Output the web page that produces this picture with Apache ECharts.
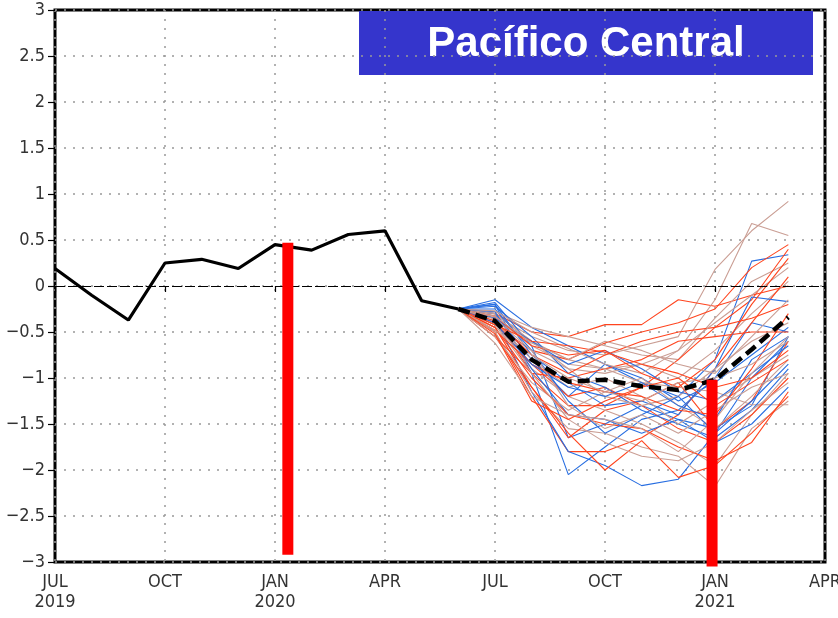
<!DOCTYPE html>
<html>
<head>
<meta charset="utf-8">
<script src="https://cdn.jsdelivr.net/npm/echarts@6/dist/echarts.min.js"></script>
<style>
  html, body { margin: 0; padding: 0; background: #fff; overflow: hidden; }
  #chart { width: 838px; height: 618px; }
</style>
</head>
<body>
<div id="chart"></div>
<script>
// Month index: 0 = JUL 2019 ... 21 = APR 2021
const tickLabels = ['JUL\n2019', 'OCT', 'JAN\n2020', 'APR', 'JUL', 'OCT', 'JAN\n2021', 'APR'];

// Observed monthly index, JUL 2019 .. JUN 2020
const obsMonths = [0, 1, 2, 3, 4, 5, 6, 7, 8, 9, 10, 11];
const obsValues = [0.19, -0.10, -0.37, 0.25, 0.29, 0.19, 0.45, 0.39, 0.56, 0.60, -0.16, -0.25];

// Forecast months, JUN 2020 .. MAR 2021
const fcstMonths = [11, 12, 13, 14, 15, 16, 17, 18, 19, 20];

// Ensemble mean forecast
const meanValues = [-0.25, -0.38, -0.80, -1.04, -1.02, -1.09, -1.13, -1.02, -0.69, -0.34];

// Ensemble members (red group)
const redMembers = [
  [-0.25, -0.30, -0.50, -0.55, -0.42, -0.42, -0.15, -0.22, -0.10, 0.00],
  [-0.25, -0.42, -0.70, -0.80, -0.62, -0.50, -0.40, -0.25, 0.20, 0.45],
  [-0.25, -0.35, -0.95, -1.30, -1.30, -1.10, -0.80, -0.45, -0.15, 0.40],
  [-0.25, -0.50, -1.20, -1.80, -1.80, -1.65, -1.40, -0.90, -0.40, 0.10],
  [-0.25, -0.45, -1.10, -1.65, -1.35, -1.25, -1.05, -1.55, -1.25, -0.60],
  [-0.25, -0.55, -0.95, -1.00, -0.90, -0.80, -0.60, -0.55, -0.50, -0.50],
  [-0.25, -0.40, -0.85, -1.20, -1.10, -1.30, -1.55, -1.70, -1.40, -1.00],
  [-0.25, -0.55, -1.10, -1.60, -2.00, -1.68, -2.08, -1.95, -1.60, -1.20],
  [-0.25, -0.45, -1.00, -1.40, -1.50, -1.55, -1.75, -1.90, -1.70, -1.15],
  [-0.25, -0.38, -0.75, -0.95, -0.75, -0.60, -0.50, -0.45, -0.35, -0.20],
  [-0.25, -0.48, -0.85, -1.05, -1.15, -1.20, -1.35, -1.40, -0.90, -0.30],
  [-0.25, -0.33, -0.65, -0.75, -0.70, -0.95, -1.10, -0.80, -0.20, 0.30],
  [-0.25, -0.52, -1.25, -1.45, -1.25, -1.10, -1.00, -1.30, -1.05, -0.80],
  [-0.25, -0.42, -0.60, -0.65, -0.72, -0.85, -0.95, -1.10, -1.00, -0.70]
];

// Ensemble members (blue group)
const blueMembers = [
  [-0.25, -0.15, -0.45, -0.65, -0.85, -1.05, -1.20, -0.80, 0.27, 0.34],
  [-0.25, -0.20, -0.95, -2.05, -1.75, -1.45, -1.35, -1.00, -0.40, -0.50],
  [-0.25, -0.18, -0.65, -1.65, -1.50, -1.30, -1.45, -1.55, -1.30, -0.55],
  [-0.25, -0.35, -1.15, -1.80, -1.95, -2.17, -2.10, -1.60, -1.00, -0.60],
  [-0.25, -0.30, -0.80, -1.20, -0.85, -1.00, -1.25, -1.05, -0.75, -0.45],
  [-0.25, -0.20, -0.75, -1.05, -1.30, -1.25, -1.40, -0.90, -0.12, -0.17],
  [-0.25, -0.22, -0.55, -0.95, -1.10, -1.35, -1.50, -1.65, -1.35, -0.90],
  [-0.25, -0.28, -0.90, -1.40, -1.45, -1.60, -1.45, -1.70, -1.50, -1.10],
  [-0.25, -0.35, -0.60, -0.85, -0.70, -0.90, -1.15, -1.25, -0.95, -0.65],
  [-0.25, -0.25, -0.70, -1.25, -1.60, -1.40, -1.20, -1.60, -1.25, -0.85],
  [-0.25, -0.40, -0.85, -1.10, -1.20, -1.05, -1.30, -1.45, -0.80, -0.55]
];

// Ensemble members (tan group)
const tanMembers = [
  [-0.25, -0.32, -0.55, -0.70, -0.75, -0.65, -0.55, 0.18, 0.60, 0.92],
  [-0.25, -0.30, -0.60, -0.80, -0.90, -0.85, -0.70, -0.15, 0.68, 0.55],
  [-0.25, -0.28, -0.45, -0.55, -0.65, -0.75, -0.80, -0.35, 0.05, 0.25],
  [-0.25, -0.45, -0.70, -0.90, -0.95, -0.85, -1.00, -0.70, -0.30, 0.05],
  [-0.25, -0.50, -1.15, -1.55, -1.60, -1.75, -1.85, -2.18, -1.55, -1.25],
  [-0.25, -0.40, -0.90, -1.20, -1.35, -1.50, -1.70, -1.95, -1.40, -0.95],
  [-0.25, -0.35, -0.65, -0.85, -0.90, -1.05, -1.10, -1.15, -1.29, -1.29],
  [-0.25, -0.30, -0.60, -0.90, -1.20, -1.30, -1.20, -0.90, -0.60, -0.40],
  [-0.25, -0.55, -1.05, -1.35, -1.15, -1.00, -1.30, -1.55, -1.20, -0.80],
  [-0.25, -0.38, -0.80, -1.10, -1.00, -1.20, -1.50, -1.25, -1.00, -0.75],
  [-0.25, -0.42, -0.95, -1.45, -1.70, -1.85, -1.90, -1.70, -1.35, -1.05],
  [-0.25, -0.27, -0.50, -0.68, -0.85, -0.95, -0.70, -0.40, -0.10, 0.20],
  [-0.25, -0.48, -0.75, -1.00, -1.15, -1.25, -1.05, -1.00, -0.85, -0.60],
  [-0.25, -0.36, -0.70, -1.30, -1.55, -1.40, -1.60, -1.35, -1.10, -0.95],
  [-0.25, -0.62, -1.20, -1.40, -1.45, -1.55, -1.80, -1.45, -0.95, -0.55],
  [-0.25, -0.33, -0.62, -0.80, -0.60, -0.70, -0.85, -0.95, -0.55, -0.15]
];

// Vertical red markers: month position, top value, bottom value
const markerMonths = [6.35, 17.92];
const markerTops = [0.47, -1.02];
const markerBottoms = [-2.92, -3.05];

const titleText = 'Pacífico Central';

const axisFont = "'Liberation Sans Narrow', 'DejaVu Sans Condensed', 'Liberation Sans', sans-serif";
const memberColors = { tan: 'rgb(202,158,148)', red: 'rgb(255,68,30)', blue: 'rgb(40,110,225)' };

function pairs(xs, ys) { return xs.map((x, i) => [x, ys[i]]); }

function memberLine(vals, color) {
  return {
    type: 'line',
    data: pairs(fcstMonths, vals),
    symbol: 'none',
    silent: true,
    lineStyle: { color: color, width: 1.1 },
    z: 2
  };
}

// Interleave the three member groups so no colour sits entirely on top
const memberLines = [];
const nMax = Math.max(tanMembers.length, redMembers.length, blueMembers.length);
for (let i = 0; i < nMax; i++) {
  if (tanMembers[i]) memberLines.push(memberLine(tanMembers[i], memberColors.tan));
  if (redMembers[i]) memberLines.push(memberLine(redMembers[i], memberColors.red));
  if (blueMembers[i]) memberLines.push(memberLine(blueMembers[i], memberColors.blue));
}

const chart = echarts.init(document.getElementById('chart'), null, { renderer: 'canvas' });

const option = {
  animation: false,
  grid: {
    left: 55, right: 13, top: 10, bottom: 56,
    containLabel: false, outerBoundsMode: 'none',
    show: true, borderColor: '#000', borderWidth: 3, backgroundColor: '#fff'
  },
  xAxis: {
    type: 'value', min: 0, max: 21, interval: 3,
    axisLine: { show: false },
    axisTick: { show: true, length: 6, lineStyle: { color: '#000', width: 1.2 } },
    axisLabel: {
      margin: 10, color: '#333', fontFamily: axisFont, fontSize: 18, lineHeight: 20,
      showMaxLabel: true, showMinLabel: true,
      formatter: v => tickLabels[Math.round(v / 3)] || ''
    },
    splitLine: { show: true, lineStyle: { color: '#999', type: [2, 7], width: 1.5 } }
  },
  yAxis: {
    type: 'value', min: -3, max: 3, interval: 0.5,
    axisLine: { show: false },
    axisTick: { show: true, length: 7, lineStyle: { color: '#000', width: 1.2 } },
    axisLabel: {
      margin: 10, color: '#333', fontFamily: axisFont, fontSize: 18,
      formatter: v => (v < 0 ? '\u2212' + String(-v) : String(v))
    },
    splitLine: { show: true, lineStyle: { color: '#999', type: [2, 7], width: 1.5 } }
  },
  series: [
    ...memberLines,
    {
      type: 'line',
      data: pairs(obsMonths, obsValues),
      symbol: 'none',
      lineStyle: { color: '#000', width: 3.2 },
      z: 4,
      markLine: {
        silent: true, symbol: 'none',
        label: { show: false },
        lineStyle: { color: '#000', type: [10, 3], width: 1.2 },
        data: [{ yAxis: 0 }]
      }
    },
    {
      type: 'line',
      data: pairs(fcstMonths, meanValues),
      symbol: 'none',
      lineStyle: { color: '#000', width: 4.5, type: [12, 6] },
      z: 5
    },
    {
      type: 'custom',
      clip: false,
      z: 6,
      data: markerMonths.map((m, i) => [m, markerTops[i], markerBottoms[i]]),
      renderItem: function (params, api) {
        const top = api.coord([api.value(0), api.value(1)]);
        const bot = api.coord([api.value(0), api.value(2)]);
        return {
          type: 'rect',
          shape: { x: top[0] - 5.5, y: top[1], width: 11, height: bot[1] - top[1] },
          style: { fill: '#ff0000' }
        };
      }
    }
  ],
  graphic: [
    {
      type: 'group', left: 359, top: 11, z: 100,
      children: [
        { type: 'rect', shape: { x: 0, y: 0, width: 454, height: 64 }, style: { fill: '#3535cc' } },
        {
          type: 'text', x: 227, y: 33,
          style: {
            text: titleText, fill: '#fff', align: 'center', verticalAlign: 'middle',
            font: "bold 42px 'Liberation Sans', Arial, sans-serif"
          }
        }
      ]
    }
  ]
};

chart.setOption(option);
</script>
</body>
</html>
